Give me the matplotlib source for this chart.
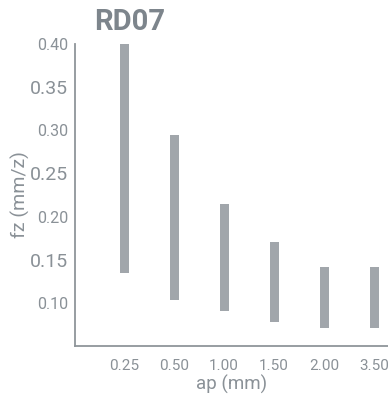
import matplotlib.pyplot as plt
import numpy as np

ap_labels = ['0.25', '0.50', '1.00', '1.50', '2.00', '3.50']
fz_low = [0.135, 0.103, 0.090, 0.078, 0.071, 0.071]
fz_high = [0.400, 0.295, 0.215, 0.170, 0.142, 0.142]
y_ticks = [0.10, 0.15, 0.20, 0.25, 0.30, 0.35, 0.40]

plt.rcParams['font.family'] = ['Roboto', 'DejaVu Sans']
text_col = '#8a9197'
bar_col = '#a1a6ab'

fig = plt.figure(figsize=(3.88, 4.0), dpi=100)
ax = fig.add_axes([75 / 388, 54 / 400, 313 / 388, 302 / 400])

x = np.arange(len(ap_labels))
low = np.array(fz_low)
high = np.array(fz_high)
ax.bar(x, high - low, bottom=low, width=0.18, color=bar_col)

ax.set_xlim(-0.98, 5.28)
ax.set_ylim(0.05, 0.40)
ax.set_xticks(x)
ax.set_xticklabels(ap_labels, fontsize=11, color=text_col)
ax.set_yticks(y_ticks)
ax.set_yticklabels([f'{v:.2f}' for v in y_ticks], color=text_col)
for i, lab in enumerate(ax.get_yticklabels()):
    lab.set_fontsize(14 if i % 2 == 1 else 11.5)
ax.tick_params(length=0, pad=5)
ax.tick_params(axis='x', pad=9)

for s in ['top', 'right']:
    ax.spines[s].set_visible(False)
for s in ['left', 'bottom']:
    ax.spines[s].set_color('#8f959a')
    ax.spines[s].set_linewidth(1.3)

ax.set_xlabel('ap (mm)', fontsize=13.5, color=text_col, labelpad=2)
ax.set_ylabel('fz (mm/z)', fontsize=14, color=text_col, labelpad=0)
fig.text(130 / 388, 1 - 22 / 400, 'RD07', fontsize=21, fontweight='bold',
         color='#7d858c', ha='center', va='center')

fig.savefig('out.png', dpi=100)
